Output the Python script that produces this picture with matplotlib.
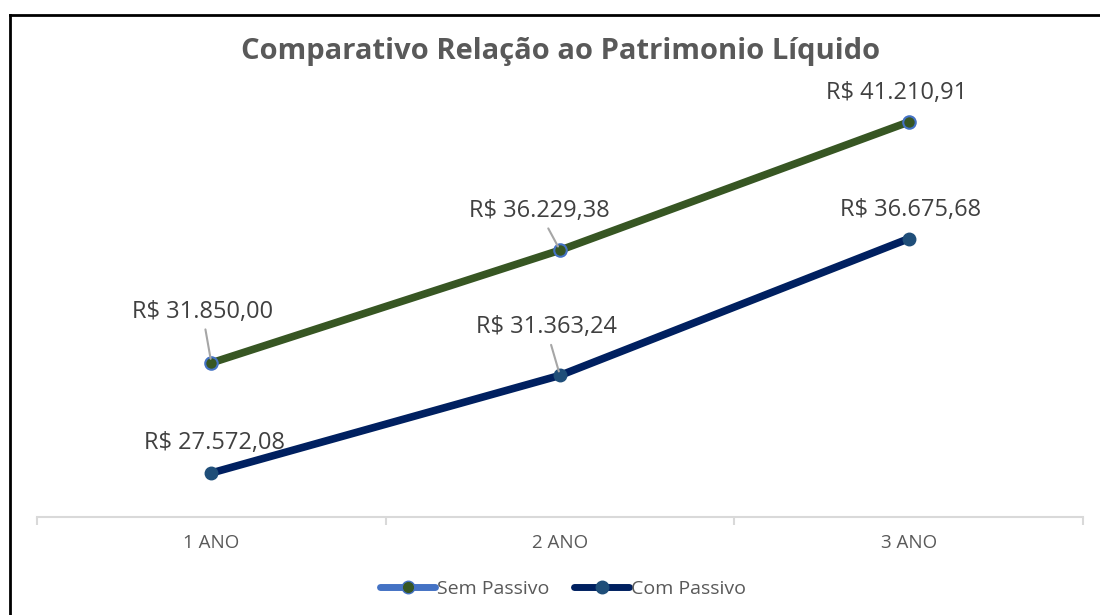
import matplotlib.pyplot as plt
from matplotlib.lines import Line2D

plt.rcParams['font.family'] = ['Open Sans', 'DejaVu Sans']

anos = ['1 ANO', '2 ANO', '3 ANO']
sem_passivo = [31850.00, 36229.38, 41210.91]
com_passivo = [27572.08, 31363.24, 36675.68]
sem_rotulos = ['R$ 31.850,00', 'R$ 36.229,38', 'R$ 41.210,91']
com_rotulos = ['R$ 27.572,08', 'R$ 31.363,24', 'R$ 36.675,68']

# deslocamentos dos rótulos (pixels) e se há linha de chamada
sem_offsets = [(-9, 51), (-21, 39), (-12, 29)]
sem_chamada = [True, True, False]
com_offsets = [(3, 30), (-14, 48), (2, 29)]
com_chamada = [False, True, False]

verde = '#375623'
azul_borda = '#4472C4'
marinho = '#002060'
azul_marcador = '#1F4E79'
cinza = '#595959'

fig = plt.figure(figsize=(11, 6.15), dpi=100)
ax = fig.add_axes([37/1100, (615-517)/615, (1083-37)/1100, (517-100)/615])

x = range(len(anos))
ax.plot(x, sem_passivo, '-o', color=verde, lw=5.5, ms=9,
        mfc=verde, mec=azul_borda, mew=1.5, solid_capstyle='round', zorder=3)
ax.plot(x, com_passivo, '-o', color=marinho, lw=5.5, ms=9,
        mfc=azul_marcador, mec=azul_marcador, solid_capstyle='round', zorder=3)


def rotular(valores, rotulos, offsets, chamadas):
    for i in range(len(valores)):
        props = None
        if chamadas[i]:
            props = dict(arrowstyle='-', color='#A6A6A6', lw=1.5, shrinkA=2, shrinkB=3)
        ax.annotate(rotulos[i], (i, valores[i]), xytext=offsets[i],
                    textcoords='offset pixels', ha='center', va='center',
                    fontsize=17, color='#404040', arrowprops=props, zorder=4)


rotular(sem_passivo, sem_rotulos, sem_offsets, sem_chamada)
rotular(com_passivo, com_rotulos, com_offsets, com_chamada)

ax.set_xlim(-0.5, 2.5)
ax.set_ylim(25862, 42065)
ax.set_xticks(list(x))
ax.set_xticklabels(anos, fontsize=13.5, color=cinza)
ax.set_xticks([-0.5, 0.5, 1.5, 2.5], minor=True)
ax.tick_params(axis='x', which='major', length=0, pad=12)
ax.tick_params(axis='x', which='minor', length=6, width=1.5, color='#D9D9D9')
ax.set_yticks([])
for s in ['top', 'right', 'left']:
    ax.spines[s].set_visible(False)
ax.spines['bottom'].set_color('#D9D9D9')
ax.spines['bottom'].set_linewidth(1.5)

fig.text(561/1100, 1 - 52/615, 'Comparativo Relação ao Patrimonio Líquido',
         ha='center', va='center', fontsize=21, fontweight='bold', color=cinza)

handles = [
    Line2D([], [], color=azul_borda, lw=5, marker='o', ms=9, mfc=verde,
           mec=azul_borda, solid_capstyle='round'),
    Line2D([], [], color=marinho, lw=5, marker='o', ms=9, mfc=azul_marcador,
           mec=azul_marcador, solid_capstyle='round'),
]
fig.legend(handles, ['Sem Passivo', 'Com Passivo'], loc='center',
           bbox_to_anchor=(563/1100, 1 - 589/615), ncol=2, frameon=False,
           fontsize=14, labelcolor=cinza, handlelength=2.8, handletextpad=0.1,
           columnspacing=1.3)

# moldura preta (cortada à direita e embaixo)
fig.add_artist(Line2D([10/1100, 10/1100], [0, 1 - 15/615], color='black', lw=2,
                      transform=fig.transFigure))
fig.add_artist(Line2D([10/1100, 1], [1 - 15/615, 1 - 15/615], color='black', lw=2,
                      transform=fig.transFigure))

fig.savefig('out.png', dpi=100)
